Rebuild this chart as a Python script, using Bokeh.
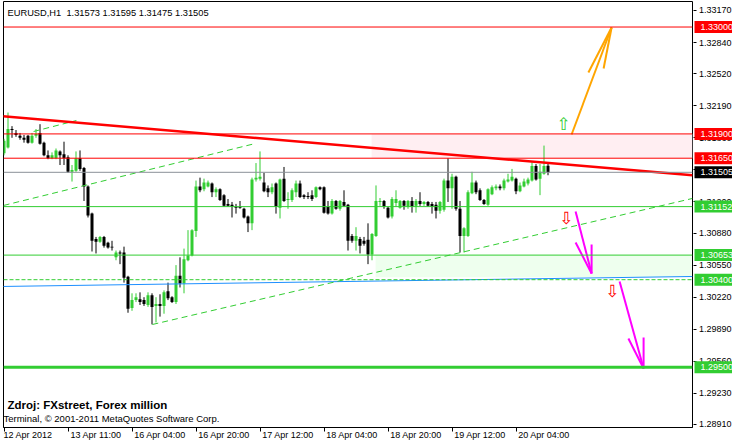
from bokeh.plotting import figure
from bokeh.layouts import row
from bokeh.models import Range1d, FixedTicker, PrintfTickFormatter, Span, Label
from bokeh.embed import file_html
from bokeh.resources import INLINE
from bokeh.core.properties import value

# ---------------- data: EURUSD H1 candles (bar index 0 = 12 Apr 2012 19:00) ----------------
opens = [
    1.3170, 1.3176, 1.3195, 1.3191, 1.3188, 1.3186, 1.3188, 1.3181, 1.3188, 1.3191,
    1.3181, 1.3168, 1.3165, 1.3165, 1.3172, 1.3169, 1.3166, 1.3151, 1.3152, 1.3165,
    1.3155, 1.3136, 1.3108, 1.3082, 1.3079, 1.3084, 1.3078, 1.3074, 1.3063, 1.3068,
    1.3068, 1.3043, 1.3011, 1.3019, 1.3020, 1.3019, 1.3014, 1.3024, 1.3013, 1.3015,
    1.3013, 1.3028, 1.3022, 1.3017, 1.3044, 1.3036, 1.3060, 1.3065, 1.3090, 1.3136,
    1.3133, 1.3136, 1.3139, 1.3130, 1.3133, 1.3127, 1.3118, 1.3117, 1.3115, 1.3115,
    1.3113, 1.3105, 1.3098, 1.3143, 1.3144, 1.3140, 1.3134, 1.3130, 1.3139, 1.3114,
    1.3144, 1.3122, 1.3122, 1.3130, 1.3139, 1.3127, 1.3126, 1.3127, 1.3125, 1.3135,
    1.3135, 1.3115, 1.3108, 1.3121, 1.3113, 1.3120, 1.3117, 1.3085, 1.3080, 1.3082,
    1.3080, 1.3081, 1.3066, 1.3085, 1.3120, 1.3121, 1.3114, 1.3105, 1.3119, 1.3114,
    1.3121, 1.3115, 1.3121, 1.3116, 1.3121, 1.3118, 1.3120, 1.3118, 1.3117, 1.3111,
    1.3112, 1.3142, 1.3134, 1.3146, 1.3113, 1.3085, 1.3085, 1.3129, 1.3140, 1.3132,
    1.3122, 1.3117, 1.3128, 1.3134, 1.3136, 1.3134, 1.3141, 1.3142, 1.3144, 1.3131,
    1.3136, 1.3139, 1.3142, 1.3157, 1.3144, 1.3149, 1.31573,
]
highs = [
    1.3185, 1.3212, 1.3198, 1.3194, 1.3191, 1.3189, 1.3189, 1.3191, 1.3195, 1.3200,
    1.3182, 1.3173, 1.3171, 1.3175, 1.3173, 1.3182, 1.3168, 1.3158, 1.3172, 1.3173,
    1.3156, 1.3137, 1.3109, 1.3084, 1.3085, 1.3085, 1.3079, 1.3080, 1.3070, 1.3070,
    1.3074, 1.3044, 1.3026, 1.3026, 1.3027, 1.3022, 1.3027, 1.3026, 1.3022, 1.3025,
    1.3029, 1.3037, 1.3023, 1.3055, 1.3063, 1.3072, 1.3091, 1.3092, 1.3142, 1.3145,
    1.3144, 1.3142, 1.3140, 1.3135, 1.3134, 1.3128, 1.3123, 1.3120, 1.3118, 1.3121,
    1.3114, 1.3106, 1.3145, 1.3160, 1.3172, 1.3150, 1.3137, 1.3139, 1.3140, 1.3144,
    1.3156, 1.3130, 1.3134, 1.3142, 1.3142, 1.3128, 1.3130, 1.3132, 1.3136, 1.3136,
    1.3136, 1.3121, 1.3123, 1.3122, 1.3122, 1.3132, 1.3118, 1.3087, 1.3094, 1.3084,
    1.3084, 1.3098, 1.3088, 1.3137, 1.3124, 1.3122, 1.3115, 1.3125, 1.3132, 1.3122,
    1.3122, 1.3122, 1.3125, 1.3123, 1.3130, 1.3121, 1.3121, 1.3120, 1.3120, 1.3121,
    1.3144, 1.3165, 1.3149, 1.3147, 1.3121, 1.3094, 1.3132, 1.3151, 1.3142, 1.3134,
    1.3123, 1.3134, 1.3137, 1.3138, 1.3138, 1.3144, 1.3149, 1.3154, 1.3145, 1.3140,
    1.3144, 1.3145, 1.3161, 1.3159, 1.3159, 1.3178, 1.31595,
]
lows = [
    1.3168, 1.3175, 1.3186, 1.3187, 1.3184, 1.3181, 1.3180, 1.3180, 1.3186, 1.3179,
    1.3167, 1.3164, 1.3164, 1.3164, 1.3158, 1.3158, 1.3150, 1.3141, 1.3151, 1.3152,
    1.3121, 1.3104, 1.3069, 1.3067, 1.3078, 1.3073, 1.3072, 1.3070, 1.3060, 1.3056,
    1.3037, 1.3006, 1.3008, 1.3017, 1.3014, 1.3013, 1.3012, 1.2994, 1.2996, 1.3002,
    1.3005, 1.3019, 1.3016, 1.3015, 1.3032, 1.3026, 1.3059, 1.3064, 1.3084, 1.3130,
    1.3131, 1.3135, 1.3125, 1.3125, 1.3121, 1.3115, 1.3115, 1.3104, 1.3108, 1.3113,
    1.3103, 1.3089, 1.3091, 1.3141, 1.3142, 1.3130, 1.3125, 1.3128, 1.3108, 1.3103,
    1.3120, 1.3113, 1.3120, 1.3125, 1.3124, 1.3123, 1.3123, 1.3121, 1.3124, 1.3132,
    1.3108, 1.3107, 1.3107, 1.3112, 1.3111, 1.3115, 1.3070, 1.3078, 1.3070, 1.3067,
    1.3075, 1.3056, 1.3060, 1.3084, 1.3116, 1.3113, 1.3103, 1.3103, 1.3115, 1.3113,
    1.3112, 1.3113, 1.3109, 1.3109, 1.3116, 1.3116, 1.3115, 1.3108, 1.3103, 1.3108,
    1.3110, 1.3120, 1.3113, 1.3111, 1.3068, 1.3068, 1.3084, 1.3128, 1.3128, 1.3121,
    1.3117, 1.3116, 1.3127, 1.3132, 1.3132, 1.3132, 1.3140, 1.3141, 1.3128, 1.3130,
    1.3135, 1.3137, 1.3141, 1.3142, 1.3127, 1.3148, 1.31475,
]
closes = [
    1.3183, 1.3195, 1.3194, 1.3189, 1.3186, 1.3184, 1.3181, 1.3188, 1.3190, 1.3180,
    1.3168, 1.3165, 1.3168, 1.3173, 1.3168, 1.3165, 1.3151, 1.3153, 1.3165, 1.3154,
    1.3136, 1.3106, 1.3080, 1.3079, 1.3084, 1.3075, 1.3073, 1.3073, 1.3068, 1.3067,
    1.3042, 1.3010, 1.3019, 1.3022, 1.3017, 1.3015, 1.3024, 1.3012, 1.3015, 1.3013,
    1.3027, 1.3021, 1.3017, 1.3044, 1.3036, 1.3061, 1.3065, 1.3091, 1.3136, 1.3132,
    1.3140, 1.3140, 1.3130, 1.3133, 1.3122, 1.3116, 1.3116, 1.3115, 1.3114, 1.3114,
    1.3104, 1.3098, 1.3143, 1.3145, 1.3146, 1.3131, 1.3130, 1.3135, 1.3115, 1.3143,
    1.3121, 1.3123, 1.3132, 1.3139, 1.3125, 1.3125, 1.3125, 1.3123, 1.3135, 1.3133,
    1.3109, 1.3108, 1.3121, 1.3113, 1.3121, 1.3116, 1.3080, 1.3080, 1.3085, 1.3075,
    1.3077, 1.3066, 1.3087, 1.3121, 1.3121, 1.3115, 1.3104, 1.3123, 1.3123, 1.3121,
    1.3116, 1.3121, 1.3115, 1.3121, 1.3118, 1.3120, 1.3116, 1.3115, 1.3111, 1.3120,
    1.3142, 1.3134, 1.3146, 1.3113, 1.3085, 1.3093, 1.3130, 1.3140, 1.3130, 1.3122,
    1.3118, 1.3133, 1.3135, 1.3136, 1.3134, 1.3142, 1.3143, 1.3146, 1.3131, 1.3137,
    1.3141, 1.3143, 1.3157, 1.3143, 1.3151, 1.3157, 1.31505,
]

# time axis
time_ticks = [0, 16, 32, 48, 64, 80, 96, 112, 128]
time_labels = ["12 Apr 2012", "13 Apr 11:00", "16 Apr 04:00", "16 Apr 20:00", "17 Apr 12:00",
               "18 Apr 04:00", "18 Apr 20:00", "19 Apr 12:00", "20 Apr 04:00"]
# price axis
price_ticks = [1.33170, 1.32840, 1.32520, 1.32190, 1.31860, 1.31530, 1.31200,
               1.30880, 1.30550, 1.30220, 1.29890, 1.29560, 1.29230, 1.28910]

# horizontal levels (price, line colour, width, dash, tag colour)
level_prices = [1.33000, 1.31900, 1.31650, 1.31505, 1.31152, 1.30653, 1.30400, 1.29500]
level_colors = ["#FF0000", "#FF0000", "#FF0000", "#8A9098", "#32CD32", "#32CD32", "#32CD32", "#32CD32"]
level_widths = [1, 1, 1, 1, 1, 1, 1, 3]
level_dashes = ["solid", "solid", "solid", "solid", "solid", "solid", "4 2", "solid"]
tag_colors = ["#FF0000", "#FF0000", "#FF0000", "#000000", "#32CD32", "#32CD32", "#32CD32", "#32CD32"]

# drawn objects (bar index, price)
red_trend_x = [-0.875, 172.125]
red_trend_y = [1.32083, 1.31475]
blue_trend_x = [-0.875, 172.125]
blue_trend_y = [1.30330, 1.30433]
chan_x0 = [7.4, -0.1, 37.1]
chan_y0 = [1.31925, 1.31164, 1.29939]
chan_x1 = [18.1, 62.9, 172.125]
chan_y1 = [1.32038, 1.31802, 1.31236]
pink_zone = dict(left=91.9, right=172.125, bottom=1.31650, top=1.31900)
green_zone = dict(left=92.9, right=171.9, bottom=1.30425, top=1.30653)
orange_x0 = [141.9, 151.9, 151.9]
orange_y0 = [1.31894, 1.32995, 1.32995]
orange_x1 = [151.9, 146.1, 149.9]
orange_y1 = [1.32995, 1.32532, 1.32573]
magenta_x0 = [142.9, 146.9, 146.9, 153.9, 159.9, 159.9]
magenta_y0 = [1.31102, 1.30464, 1.30464, 1.30382, 1.29486, 1.29486]
magenta_x1 = [146.9, 142.9, 146.9, 159.9, 156.1, 159.9]
magenta_y1 = [1.30464, 1.30783, 1.30762, 1.29486, 1.29795, 1.29805]
up_arrow_x, up_arrow_y = [139.9], [1.32007]
down_arrow_x, down_arrow_y = [140.6, 152.1], [1.31030, 1.30279]

BULL = "#32CD32"
BEAR = "#000000"
FONT = "Liberation Sans"

# ---------------- main chart ----------------
p = figure(width=693, height=445, output_backend="svg", toolbar_location=None,
           x_range=Range1d(-0.125, 172.125), y_range=Range1d(1.288791, 1.332626),
           y_axis_location=None,
           min_border_left=3, min_border_top=1, min_border_right=1, min_border_bottom=18,
           background_fill_color="white", border_fill_color="white")
p.outline_line_color = "black"
p.outline_line_width = 1
p.xgrid.visible = False
p.ygrid.visible = False

# zones (background)
p.quad(left=[pink_zone["left"]], right=[pink_zone["right"]], bottom=[pink_zone["bottom"]],
       top=[pink_zone["top"]], fill_color="#FFEEF2", line_color=None)
p.quad(left=[green_zone["left"]], right=[green_zone["right"]], bottom=[green_zone["bottom"]],
       top=[green_zone["top"]], fill_color="#EEFFEE", line_color=None)

# candles
idx = list(range(len(opens)))
colors = [BULL if c >= o else BEAR for o, c in zip(opens, closes)]
body_top = [max(o, c) for o, c in zip(opens, closes)]
body_bot = [min(o, c) for o, c in zip(opens, closes)]
p.segment(x0=idx, y0=lows, x1=idx, y1=highs, line_color=colors, line_width=1)
p.vbar(x=idx, width=0.75, top=body_top, bottom=body_bot, fill_color=colors, line_color=None)

# horizontal levels
for pr, col, w, d in zip(level_prices, level_colors, level_widths, level_dashes):
    p.add_layout(Span(location=pr, dimension="width", line_color=col, line_width=w, line_dash=d))

# trend lines
p.line(blue_trend_x, blue_trend_y, line_color="#1E90FF", line_width=1)
p.segment(x0=chan_x0, y0=chan_y0, x1=chan_x1, y1=chan_y1, line_color=BULL, line_width=1, line_dash="6 4")
p.line(red_trend_x, red_trend_y, line_color="#FF0000", line_width=2.5)

# arrows
p.segment(x0=orange_x0, y0=orange_y0, x1=orange_x1, y1=orange_y1, line_color="#FFA500", line_width=2)
p.segment(x0=magenta_x0, y0=magenta_y0, x1=magenta_x1, y1=magenta_y1, line_color="#FF00FF", line_width=2)
p.text(x=up_arrow_x, y=up_arrow_y, text=["\u21e7"], text_font=value("DejaVu Sans"), text_font_size="17px",
       text_color=BULL, text_align="center", text_baseline="middle")
p.text(x=down_arrow_x, y=down_arrow_y, text=["\u21e9", "\u21e9"], text_font=value("DejaVu Sans"),
       text_font_size="17px", text_color="#FF0000", text_align="center", text_baseline="middle")

# time axis
label_pos = [time_ticks[0] + 6] + [t + 7 for t in time_ticks[1:]]
p.xaxis.ticker = FixedTicker(ticks=label_pos, minor_ticks=time_ticks)
p.xaxis.major_label_overrides = {lp: lab for lp, lab in zip(label_pos, time_labels)}
p.xaxis.major_label_text_font = FONT
p.xaxis.major_label_text_font_size = "9px"
p.xaxis.major_label_text_color = "black"
p.xaxis.major_tick_line_color = None
p.xaxis.major_tick_out = 0
p.xaxis.major_tick_in = 0
p.xaxis.minor_tick_out = 4
p.xaxis.minor_tick_in = 0
p.xaxis.minor_tick_line_color = "black"
p.xaxis.major_label_standoff = -2
p.xaxis.axis_line_color = "black"

# texts
p.add_layout(Label(x=4, y=415, x_units="screen", y_units="screen",
                   text="EURUSD,H1\u00a0 1.31573 1.31595 1.31475 1.31505",
                   text_font=FONT, text_font_size="9.3px", text_color="black",
                   text_baseline="middle", text_align="left"))
p.add_layout(Label(x=4, y=23, x_units="screen", y_units="screen",
                   text="Zdroj: FXstreet, Forex million",
                   text_font=FONT, text_font_size="11.5px", text_font_style="bold",
                   text_color="black", text_baseline="middle", text_align="left"))
p.add_layout(Label(x=0, y=9, x_units="screen", y_units="screen",
                   text="Terminal, \u00a9 2001-2011 MetaQuotes Software Corp.",
                   text_font=FONT, text_font_size="9.5px", text_color="black",
                   text_baseline="middle", text_align="left"))

# ---------------- price scale strip ----------------
pa = figure(width=39, height=445, output_backend="svg", toolbar_location=None,
            x_range=Range1d(0, 39), y_range=p.y_range,
            x_axis_location=None, y_axis_location="left",
            min_border_left=0, min_border_right=0, min_border_top=1, min_border_bottom=18,
            background_fill_color="white", border_fill_color="white", outline_line_color=None)
pa.xgrid.visible = False
pa.ygrid.visible = False
pa.yaxis.ticker = FixedTicker(ticks=price_ticks)
pa.yaxis.formatter = PrintfTickFormatter(format="%.5f")
pa.yaxis.major_label_text_font = FONT
pa.yaxis.major_label_text_font_size = "9px"
pa.yaxis.major_label_text_color = "black"
pa.yaxis.major_tick_out = 0
pa.yaxis.major_tick_in = 3
pa.yaxis.major_tick_line_color = "black"
pa.yaxis.minor_tick_line_color = None
pa.yaxis.axis_line_color = None
pa.yaxis.major_label_standoff = -38

tag_text = ["%.5f" % v for v in level_prices]
pa.rect(x=[21] * len(level_prices), y=level_prices, width=40, height=12,
        width_units="screen", height_units="screen",
        fill_color=tag_colors, line_color=None, level="overlay")
pa.text(x=[7] * len(level_prices), y=level_prices, text=tag_text,
        text_font=value(FONT), text_font_size="9px", text_color="white",
        text_align="left", text_baseline="middle", level="overlay")

layout = row(p, pa)
open("out.html", "w").write(file_html(layout, INLINE))
